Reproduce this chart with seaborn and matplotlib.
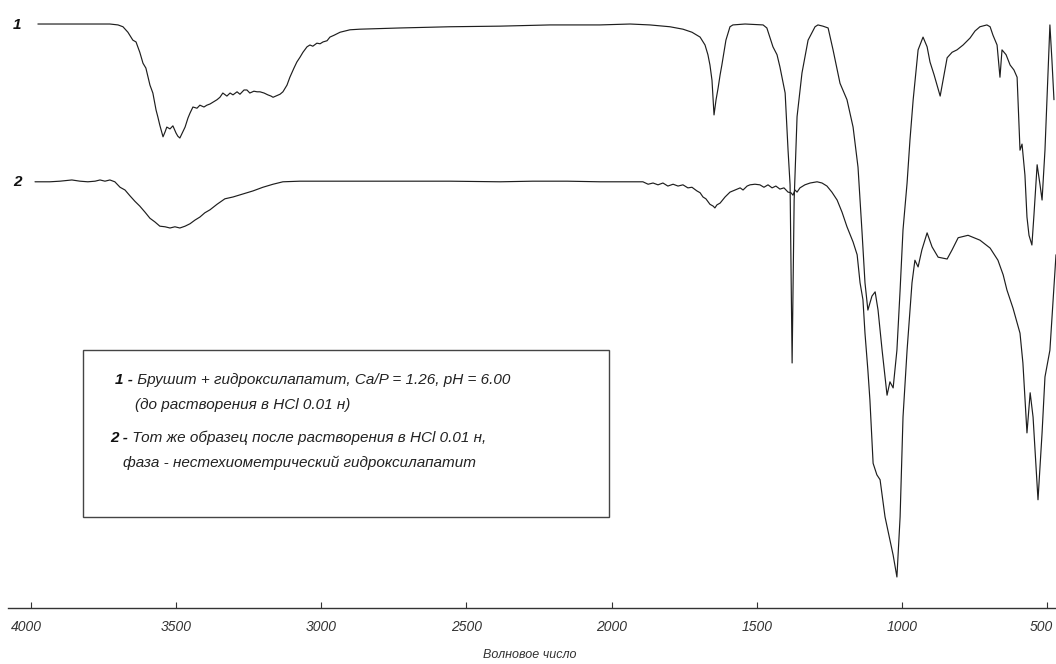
import matplotlib
matplotlib.use("Agg")
import matplotlib.pyplot as plt
import matplotlib.transforms as mtransforms
import pandas as pd
import seaborn as sns
from matplotlib.patches import Rectangle
from matplotlib.text import Annotation

# IR spectrum 1: brushite + hydroxyapatite before dissolution (wavenumber, cm-1 / transmittance, a.u.)
wn_1 = [3976, 3831, 3728, 3700, 3683, 3666, 3649, 3638, 3625, 3614, 3604, 3590, 3580, 3569,
        3563, 3556, 3545, 3538, 3532, 3521, 3511, 3500, 3494, 3487, 3480, 3469, 3459, 3452,
        3442, 3428, 3418, 3404, 3394, 3383, 3373, 3359, 3349, 3339, 3325, 3314, 3304, 3290,
        3280, 3266, 3256, 3246, 3232, 3221, 3211, 3197, 3184, 3173, 3166, 3156, 3142, 3132,
        3118, 3108, 3094, 3084, 3073, 3063, 3049, 3039, 3029, 3015, 3004, 2994, 2980, 2970,
        2956, 2935, 2901, 2867, 2729, 2557, 2384, 2212, 2040, 1936, 1868, 1799, 1754, 1723,
        1695, 1678, 1668, 1661, 1654, 1647, 1640, 1633, 1626, 1620, 1606, 1592, 1582, 1540,
        1478, 1465, 1444, 1430, 1420, 1402, 1392, 1385, 1378, 1371, 1361, 1344, 1323, 1299,
        1289, 1272, 1254, 1237, 1213, 1189, 1168, 1151, 1137, 1127, 1117, 1103, 1092, 1082,
        1068, 1051, 1041, 1030, 1017, 1006, 996, 982, 972, 961, 944, 927, 913, 903, 889, 879,
        868, 858, 844, 827, 810, 789, 765, 748, 731, 707, 696, 686, 672, 662, 655, 641, 627,
        614, 603, 593, 586, 576, 569, 562, 552, 545, 534, 524, 517, 507, 500, 490, 483, 476]
t_1 = [96.05, 96.05, 96.05, 95.9, 95.6, 94.7, 93.4, 93.1, 91.4, 89.6, 88.8, 86.0, 84.7, 81.9,
       80.8, 79.4, 77.5, 78.3, 79.1, 78.8, 79.3, 78.1, 77.6, 77.3, 78.0, 79.1, 80.6, 81.4,
       82.4, 82.2, 82.7, 82.4, 82.7, 82.9, 83.2, 83.6, 84.0, 84.7, 84.2, 84.7, 84.4, 84.9,
       84.5, 85.2, 85.2, 84.7, 85.0, 84.9, 84.9, 84.7, 84.4, 84.2, 84.0, 84.2, 84.5, 84.9,
       86.0, 87.3, 88.8, 89.8, 90.6, 91.4, 92.3, 92.6, 92.4, 92.9, 92.8, 93.1, 93.3, 93.9,
       94.2, 94.7, 95.1, 95.2, 95.4, 95.6, 95.7, 95.9, 95.9, 96.05, 95.9, 95.6, 95.2, 94.7,
       93.9, 92.6, 91.0, 89.3, 86.8, 81.1, 83.6, 85.5, 87.7, 89.3, 93.4, 95.6, 95.9, 96.05,
       95.9, 95.4, 92.3, 91.0, 89.0, 84.7, 75.3, 69.6, 40.3, 67.1, 80.8, 88.0, 93.4, 95.6,
       95.9, 95.7, 95.4, 91.8, 86.3, 83.6, 79.1, 72.5, 61.7, 53.5, 49.0, 51.3, 52.0, 49.0,
       42.4, 35.0, 37.2, 36.2, 42.4, 52.3, 62.2, 69.9, 77.0, 83.6, 91.8, 93.9, 92.3, 89.8, 87.7, 86.0,
       84.2, 86.8, 90.5, 91.4, 91.8, 92.6, 93.75, 94.9, 95.6, 95.9, 95.6, 94.2, 92.6, 87.3, 91.8, 91.0, 89.3,
       88.5, 87.3, 75.3, 76.3, 71.2, 64.3, 61.3, 59.7, 64.6, 72.9, 69.6, 67.1, 75.3, 83.6, 95.9, 90.1, 83.6]

# IR spectrum 2: the same sample after dissolution in 0.01 N HCl
wn_2 = [3986, 3935, 3900, 3859, 3831, 3804, 3779, 3762, 3745, 3728, 3711, 3693, 3676, 3659,
        3642, 3625, 3607, 3590, 3573, 3556, 3538, 3521, 3504, 3487, 3469, 3452, 3435, 3418,
        3401, 3383, 3359, 3332, 3304, 3270, 3235, 3201, 3166, 3132, 3073, 2901, 2729, 2557,
        2384, 2271, 2153, 2040, 1926, 1892, 1874, 1857, 1840, 1823, 1806, 1788, 1771, 1754,
        1737, 1723, 1706, 1695, 1685, 1675, 1661, 1650, 1644, 1637, 1626, 1609, 1592, 1575,
        1557, 1547, 1533, 1523, 1506, 1489, 1475, 1461, 1447, 1434, 1420, 1406, 1392, 1382,
        1375, 1368, 1361, 1351, 1334, 1316, 1292, 1275, 1258, 1241, 1223, 1206, 1189, 1168,
        1154, 1144, 1134, 1127, 1117, 1110, 1099, 1086, 1075, 1058, 1041, 1030, 1017, 1006,
        996, 982, 965, 955, 944, 931, 913, 896, 875, 844, 827, 806, 772, 731, 696, 669, 651,
        638, 617, 593, 583, 569, 558, 548, 531, 517, 507, 490, 479, 469]
t_2 = [70.1, 70.1, 70.2, 70.4, 70.2, 70.1, 70.2, 70.4, 70.2, 70.4, 70.1, 69.2, 68.75, 67.8,
       66.9, 66.1, 65.1, 64.1, 63.5, 62.8, 62.7, 62.5, 62.7, 62.5, 62.8, 63.2, 63.8, 64.3,
       65.0, 65.5, 66.4, 67.3, 67.6, 68.1, 68.6, 69.2, 69.7, 70.1, 70.2, 70.2, 70.2, 70.2,
       70.1, 70.2, 70.2, 70.1, 70.1, 70.1, 69.7, 69.9, 69.6, 69.9, 69.4, 69.7, 69.4, 69.6,
       69.1, 69.2, 68.6, 68.3, 67.6, 67.3, 66.4, 66.1, 65.8, 66.3, 66.6, 67.6, 68.4, 68.75,
       69.1, 68.75, 69.4, 69.6, 69.7, 69.6, 69.2, 69.6, 69.1, 69.4, 68.9, 69.1, 68.4, 68.3,
       67.9, 68.75, 68.4, 69.1, 69.6, 69.9, 70.1, 69.9, 69.4, 68.4, 67.1, 65.1, 62.7, 60.2,
       58.1, 53.5, 50.7, 45.2, 39.1, 34.2, 23.8, 21.9, 21.1, 15.0, 11.2, 8.7, 5.1, 15.0,
       31.4, 42.4, 53.5, 57.2, 56.1, 58.9, 61.7, 59.4, 57.7, 57.4, 58.9, 60.9, 61.3, 60.5, 59.2, 57.2, 54.8,
       52.3, 49.3, 45.2, 40.3, 28.8, 35.4, 31.4, 17.8, 28.8, 38.0, 42.4, 50.7, 58.1]

curve_names = ["1", "2"]
x_ticks = [4000, 3500, 3000, 2500, 2000, 1500, 1000, 500]
x_title = "Волновое число"
legend_numbers = ["1 -", "2 -"]
legend_text = [
    ["Брушит + гидроксилапатит, Ca/P = 1.26, pH = 6.00", "(до растворения в HCl 0.01 н)"],
    ["Тот же образец после растворения в HCl 0.01 н,", "фаза - нестехиометрический гидроксилапатит"],
]

sns.set_theme(style="white")
plt.rcParams["font.family"] = ["Liberation Sans", "DejaVu Sans"]

W, H = 1056, 664
fig = plt.figure(figsize=(W / 100, H / 100), dpi=100)
ax = fig.add_axes([8 / W, 56 / H, 1 - 8 / W, 1 - 56 / H])

spectra = pd.concat([
    pd.DataFrame({"wn": wn_1, "T": t_1, "curve": curve_names[0]}),
    pd.DataFrame({"wn": wn_2, "T": t_2, "curve": curve_names[1]}),
])
sns.lineplot(data=spectra, x="wn", y="T", units="curve", estimator=None,
             color="#1e1e1e", linewidth=0.85, ax=ax, legend=False)

ax.set_xlim(4079, 469)
ax.set_ylim(0, 100)
for side in ("left", "top", "right"):
    ax.spines[side].set_visible(False)
ax.spines["bottom"].set_color("#333333")
ax.spines["bottom"].set_linewidth(1.0)
ax.set_yticks([])
ax.set_xticks(x_ticks)
ax.set_xticklabels([str(v) for v in x_ticks])
ax.tick_params(axis="x", direction="in", length=4.5, width=0.8, color="#333333",
               pad=8.5, labelsize=10, labelcolor="#333333", bottom=True)
tick_labels = ax.get_xticklabels()
for lab in tick_labels:
    lab.set_fontstyle("italic")
# keep the edge labels inside the canvas
shift_first = mtransforms.ScaledTranslation(-5 / 100, 0, fig.dpi_scale_trans)
shift_last = mtransforms.ScaledTranslation(-6 / 100, 0, fig.dpi_scale_trans)
tick_labels[0].set_transform(tick_labels[0].get_transform() + shift_first)
tick_labels[-1].set_transform(tick_labels[-1].get_transform() + shift_last)
ax.set_xlabel("")
ax.set_ylabel("")

fig.text(530 / W, 1 - 655 / H, x_title, ha="center", va="center",
         fontsize=9, fontstyle="italic", color="#333333")

# curve numbers at the start of each trace
for name, y_px in zip(curve_names, [25, 182]):
    fig.text(17 / W, 1 - y_px / H, name, ha="center", va="center", fontsize=11,
             fontweight="bold", fontstyle="italic", color="#111111")

# explanation box
fig.add_artist(Rectangle((83 / W, 1 - 517 / H), (609 - 83) / W, (517 - 350) / H,
                         transform=fig.transFigure, facecolor="white",
                         edgecolor="#444444", linewidth=1.0, zorder=5))

rows = [(115, 380, 135, 405), (110, 438, 123, 463)]
for num, (first, second), (x1, y1, x2, y2) in zip(legend_numbers, legend_text, rows):
    t_num = fig.text(x1 / W, 1 - y1 / H, num, ha="left", va="center", fontsize=11,
                     fontweight="bold", fontstyle="italic", color="#111111", zorder=6)
    fig.add_artist(Annotation(" " + first, xy=(1, 0.5), xycoords=t_num, ha="left",
                              va="center", fontsize=11, fontstyle="italic",
                              color="#222222", zorder=6, annotation_clip=False))
    fig.text(x2 / W, 1 - y2 / H, second, ha="left", va="center", fontsize=11,
             fontstyle="italic", color="#222222", zorder=6)

fig.savefig("out.png", dpi=100, facecolor="white")
